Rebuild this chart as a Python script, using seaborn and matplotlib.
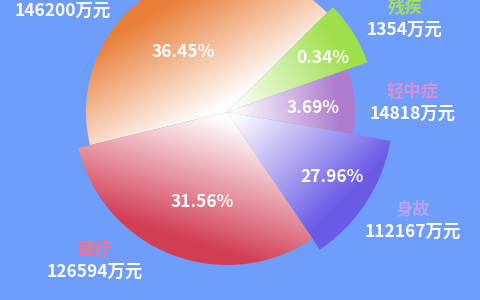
import numpy as np
import matplotlib
matplotlib.use("Agg")
import matplotlib.pyplot as plt
import seaborn as sns

# ---------------- data ----------------
categories = ["重疾", "残疾", "轻中症", "身故", "医疗"]
amounts = [146200, 1354, 14818, 112167, 126594]          # 万元
arc_degrees = [148.9, 25.2, 29.5, 46.0, 110.4]            # visible slice arc
radius_px = [141, 149, 128, 166, 153]                     # visible slice radius
slice_colors = ["#e97f3a", "#9fe04b", "#ad7ccf", "#6a5ae8", "#d33f56"]
name_colors = ["#f5a26a", "#a6e05a", "#d68fd6", "#b3a5f2", "#f2758f"]

# ---------------- layout / style ----------------
BG = "#6e9dfb"
CX, CY = 227, 300 - 112
START = 193.6
grad_dir = [120, 32, 5, -45, -108]       # gradient direction (deg)
pct_pos = [(183, 52), (323, 58), (313, 108), (332, 177), (202, 202)]
label_pos = [(63, 11), (405, 30), (413, 114), (413, 232), (95, 272)]
name_dy = 22
FS = 12.5

sns.set_theme(style="white")
plt.rcParams["font.family"] = ["Noto Sans CJK SC", "DejaVu Sans"]

fig = plt.figure(figsize=(4.8, 3.0), dpi=100, facecolor=BG)
ax = fig.add_axes([0, 0, 1, 1])
ax.set_facecolor(BG)

wedges, _ = ax.pie(arc_degrees, startangle=START, counterclock=False,
                   center=(CX, CY), radius=1, frame=True,
                   wedgeprops=dict(linewidth=0))

W, H = 960, 600
xs = np.linspace(0, 480, W)
ys = np.linspace(300, 0, H)
X, Y = np.meshgrid(xs, ys)
dX, dY = X - CX, Y - CY

for w, r, col, gd in zip(wedges, radius_px, slice_colors, grad_dir):
    w.set_radius(r)
    w.set_facecolor("none")
    a = np.deg2rad(gd)
    p = (dX * np.cos(a) + dY * np.sin(a)) / r
    t = np.clip((p - 0.05) / 0.82, 0, 1)
    c = np.array(matplotlib.colors.to_rgb(col))
    img = 1 - t[..., None] * (1 - c[None, None, :])
    im = ax.imshow(img, extent=(0, 480, 0, 300), origin="upper",
                   interpolation="bilinear", zorder=1)
    im.set_clip_path(w)

total = sum(amounts)
for i, (amt, cat) in enumerate(zip(amounts, categories)):
    px, py = pct_pos[i]
    ax.text(px, 300 - py, f"{amt / total * 100:.2f}%", color="white",
            fontsize=FS, fontweight="bold", ha="center", va="center", zorder=3)
    lx, ly = label_pos[i]
    ax.text(lx, 300 - ly, f"{amt}万元", color="white", fontsize=FS,
            fontweight="bold", ha="center", va="center", zorder=3)
    if ly - name_dy > 0:
        ax.text(lx, 300 - (ly - name_dy), cat, color=name_colors[i],
                fontsize=FS, fontweight="bold", ha="center", va="center",
                zorder=3)

ax.set_xlim(0, 480)
ax.set_ylim(0, 300)
ax.set_aspect("auto")
ax.axis("off")
fig.savefig("out.png", dpi=100, facecolor=BG)
